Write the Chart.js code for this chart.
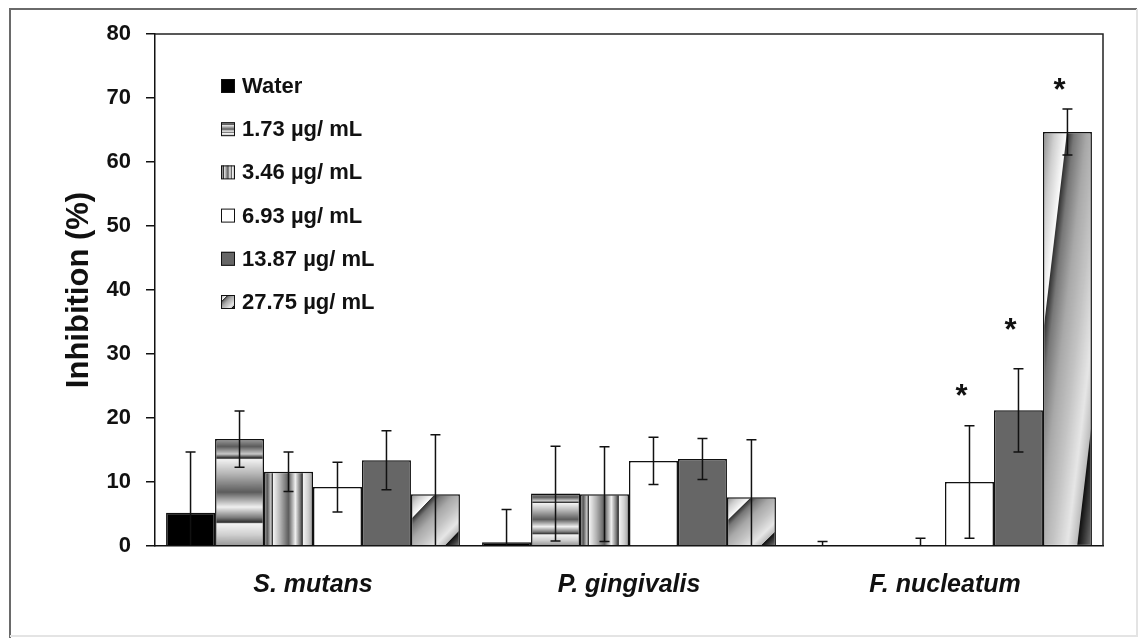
<!DOCTYPE html>
<html>
<head>
<meta charset="utf-8">
<title>Inhibition chart</title>
<script src="https://cdn.jsdelivr.net/npm/chart.js"></script>
<style>
  html, body { margin: 0; padding: 0; background: #fff; }
</style>
</head>
<body>
<canvas id="myChart" width="1142" height="638"></canvas>
<script>
// data
var categories = ['S. mutans', 'P. gingivalis', 'F. nucleatum'];
var seriesLabels = ['Water', '1.73 µg/ mL', '3.46 µg/ mL', '6.93 µg/ mL', '13.87 µg/ mL', '27.75 µg/ mL'];

var water    = [5.2, 0.6, 0.15];
var waterErr = [9.5, 5.1, 0.55];
var c173     = [16.7, 8.2, 0];
var c173Err  = [4.4, 7.4, 0];
var c346     = [11.6, 8.1, 0.1];
var c346Err  = [3.1, 7.4, 1.1];
var c693     = [9.2, 13.3, 10.0];
var c693Err  = [3.9, 3.7, 8.8];
var c1387    = [13.4, 13.6, 21.2];
var c1387Err = [4.6, 3.2, 6.5];
var c2775    = [8.1, 7.6, 64.7];
var c2775Err = [9.3, 9.0, 3.6];

// height (in %) where the significance asterisks sit
var c693Star  = [null, null, 24.6];
var c1387Star = [null, null, 34.8];
var c2775Star = [null, null, 72.4];

var yTicks = [0, 10, 20, 30, 40, 50, 60, 70, 80];

var FONT = "'Liberation Sans', Arial, sans-serif";
var INK = '#111';

// metallic stripe fills (stretched over each bar, like the original)
var TILE = 200;
var stripeStops = [
  [0, '#9e9e9e'], [0.07, '#5a5a5a'], [0.14, '#c8c8c8'], [0.175, '#333'], [0.18, '#222'],
  [0.19, '#f2f2f2'], [0.33, '#b4b4b4'], [0.5, '#5c5c5c'], [0.64, '#f0f0f0'], [0.74, '#7a7a7a'],
  [0.785, '#2a2a2a'], [0.795, '#f4f4f4'], [0.9, '#d0d0d0'], [1, '#9a9a9a']
];
var diagStops = [
  [0, '#8c8c8c'], [0.12, '#cfcfcf'], [0.24, '#fafafa'], [0.25, '#333'], [0.32, '#777'],
  [0.45, '#a8a8a8'], [0.6, '#c4c4c4'], [0.75, '#e6e6e6'], [0.845, '#bdbdbd'], [0.855, '#111'],
  [0.93, '#444'], [1, '#777']
];

function makeTile(kind) {
  var c = document.createElement('canvas');
  c.width = TILE; c.height = TILE;
  var g = c.getContext('2d');
  var grad, stops = stripeStops;
  if (kind === 'h') grad = g.createLinearGradient(0, 0, 0, TILE);
  else if (kind === 'v') grad = g.createLinearGradient(0, 0, TILE, 0);
  else { grad = g.createLinearGradient(0, 0, TILE, TILE); stops = diagStops; }
  stops.forEach(function(s) { grad.addColorStop(s[0], s[1]); });
  g.fillStyle = grad;
  g.fillRect(0, 0, TILE, TILE);
  return c;
}
var tiles = { h: makeTile('h'), v: makeTile('v'), d: makeTile('d') };

function stretched(ctx, kind, x, y, w, h) {
  if (w < 0.5 || h < 0.5) return '#888';
  var p = ctx.createPattern(tiles[kind], 'no-repeat');
  p.setTransform(new DOMMatrix([w / TILE, 0, 0, h / TILE, x, y]));
  return p;
}

var dataSets = [
  { label: seriesLabels[0], data: water, errors: waterErr, fill: '#000' },
  { label: seriesLabels[1], data: c173,  errors: c173Err,  texture: 'h' },
  { label: seriesLabels[2], data: c346,  errors: c346Err,  texture: 'v' },
  { label: seriesLabels[3], data: c693,  errors: c693Err,  fill: '#fff', stars: c693Star },
  { label: seriesLabels[4], data: c1387, errors: c1387Err, fill: '#666', stars: c1387Star },
  { label: seriesLabels[5], data: c2775, errors: c2775Err, texture: 'd', stars: c2775Star }
].map(function(d) {
  return {
    label: d.label,
    data: d.data,
    errors: d.errors,
    stars: d.stars,
    texture: d.texture,
    swatch: d.fill || null,
    backgroundColor: function() { return d.fill || '#999'; },
    borderColor: INK,
    borderWidth: 1.5,
    borderSkipped: 'start',
    categoryPercentage: 0.93,
    barPercentage: 1
  };
});

var figurePlugin = {
  id: 'figure',
  beforeDraw: function(chart) {
    var ctx = chart.ctx;
    ctx.save();
    ctx.fillStyle = '#fff';
    ctx.fillRect(0, 0, chart.width, chart.height);
    // outer frame of the figure
    ctx.lineWidth = 2;
    ctx.strokeStyle = '#6a6a6a';
    ctx.beginPath();
    ctx.moveTo(10, chart.height); ctx.lineTo(10, 9); ctx.lineTo(1137, 9);
    ctx.stroke();
    ctx.strokeStyle = '#e4e4e4';
    ctx.beginPath();
    ctx.moveTo(1137, 9); ctx.lineTo(1137, 636); ctx.lineTo(10, 636);
    ctx.stroke();
    ctx.restore();
  },
  beforeDatasetsDraw: function(chart) {
    var ctx = chart.ctx;
    chart.data.datasets.forEach(function(ds, di) {
      if (!ds.texture) return;
      chart.getDatasetMeta(di).data.forEach(function(el) {
        var p = el.getProps(['x', 'y', 'base', 'width'], true);
        var top = Math.min(p.y, p.base), h = Math.abs(p.base - p.y);
        el.options.backgroundColor = stretched(ctx, ds.texture, p.x - p.width / 2, top, p.width, h);
      });
    });
  },
  afterDatasetsDraw: function(chart) {
    var ctx = chart.ctx, area = chart.chartArea, y = chart.scales.y;
    ctx.save();
    ctx.beginPath();
    ctx.rect(area.left, area.top - 40, area.right - area.left, area.bottom - area.top + 40);
    ctx.clip();
    ctx.strokeStyle = INK;
    ctx.lineWidth = 1.5;
    chart.data.datasets.forEach(function(ds, di) {
      chart.getDatasetMeta(di).data.forEach(function(el, i) {
        var e = ds.errors[i];
        if (!e) return;
        var v = ds.data[i];
        var x = el.x, yt = y.getPixelForValue(v + e), yb = y.getPixelForValue(v - e);
        ctx.beginPath();
        ctx.moveTo(x, yb); ctx.lineTo(x, yt);
        ctx.moveTo(x - 5, yt); ctx.lineTo(x + 5, yt);
        ctx.moveTo(x - 5, yb); ctx.lineTo(x + 5, yb);
        ctx.stroke();
      });
    });
    ctx.restore();

    // significance asterisks
    ctx.save();
    ctx.fillStyle = INK;
    ctx.font = 'bold 31px ' + FONT;
    ctx.textAlign = 'center';
    ctx.textBaseline = 'alphabetic';
    chart.data.datasets.forEach(function(ds, di) {
      if (!ds.stars) return;
      chart.getDatasetMeta(di).data.forEach(function(el, i) {
        var s = ds.stars[i];
        if (s == null) return;
        ctx.fillText('*', el.x - 8, y.getPixelForValue(s) + 17);
      });
    });
    ctx.restore();
  },
  afterDraw: function(chart) {
    var ctx = chart.ctx, a = chart.chartArea;
    ctx.save();
    // top and right edges of the plot box
    ctx.strokeStyle = '#222';
    ctx.lineWidth = 1.5;
    ctx.beginPath();
    ctx.moveTo(a.left, a.top); ctx.lineTo(a.right, a.top); ctx.lineTo(a.right, a.bottom);
    ctx.stroke();

    // legend inside the plot
    var bx = a.left + 66, by = a.top + 52, box = 14, gap = 43.2;
    ctx.font = 'bold 22px ' + FONT;
    ctx.textBaseline = 'middle';
    ctx.textAlign = 'left';
    chart.data.datasets.forEach(function(ds, i) {
      var cy = by + i * gap;
      var x0 = bx, y0 = cy - box / 2;
      ctx.fillStyle = ds.texture ? stretched(ctx, ds.texture, x0, y0, box, box) : ds.swatch;
      ctx.fillRect(x0, y0, box, box);
      ctx.strokeStyle = INK;
      ctx.lineWidth = 1;
      ctx.strokeRect(x0 + 0.5, y0 + 0.5, box - 1, box - 1);
      ctx.fillStyle = INK;
      ctx.fillText(ds.label, bx + box + 7, cy + 1);
    });
    ctx.restore();
  }
};

var ctx = document.getElementById('myChart').getContext('2d');
new Chart(ctx, {
  type: 'bar',
  data: { labels: categories, datasets: dataSets },
  options: {
    responsive: false,
    animation: false,
    events: [],
    layout: { padding: { left: 61, top: 34, right: 39, bottom: 0 } },
    plugins: { legend: { display: false }, tooltip: { enabled: false } },
    scales: {
      x: {
        grid: { display: false, drawTicks: false },
        border: { color: INK, width: 1.5 },
        ticks: {
          color: INK, padding: 24, maxRotation: 0,
          font: { family: FONT, size: 25, weight: 'bold', style: 'italic' }
        },
        afterFit: function(s) { s.height = 92; }
      },
      y: {
        min: 0, max: 80,
        afterBuildTicks: function(s) { s.ticks = yTicks.map(function(v) { return { value: v }; }); },
        ticks: { color: INK, padding: 15, font: { family: FONT, size: 22, weight: 'bold' } },
        grid: { drawOnChartArea: false, drawTicks: true, tickLength: 9, color: INK, lineWidth: 1.5 },
        border: { color: INK, width: 1.5 },
        title: {
          display: true, text: 'Inhibition (%)', color: INK, padding: 0,
          font: { family: FONT, size: 31, weight: 'bold' }
        },
        afterFit: function(s) { s.width = 94; }
      }
    }
  },
  plugins: [figurePlugin]
});
</script>
</body>
</html>
